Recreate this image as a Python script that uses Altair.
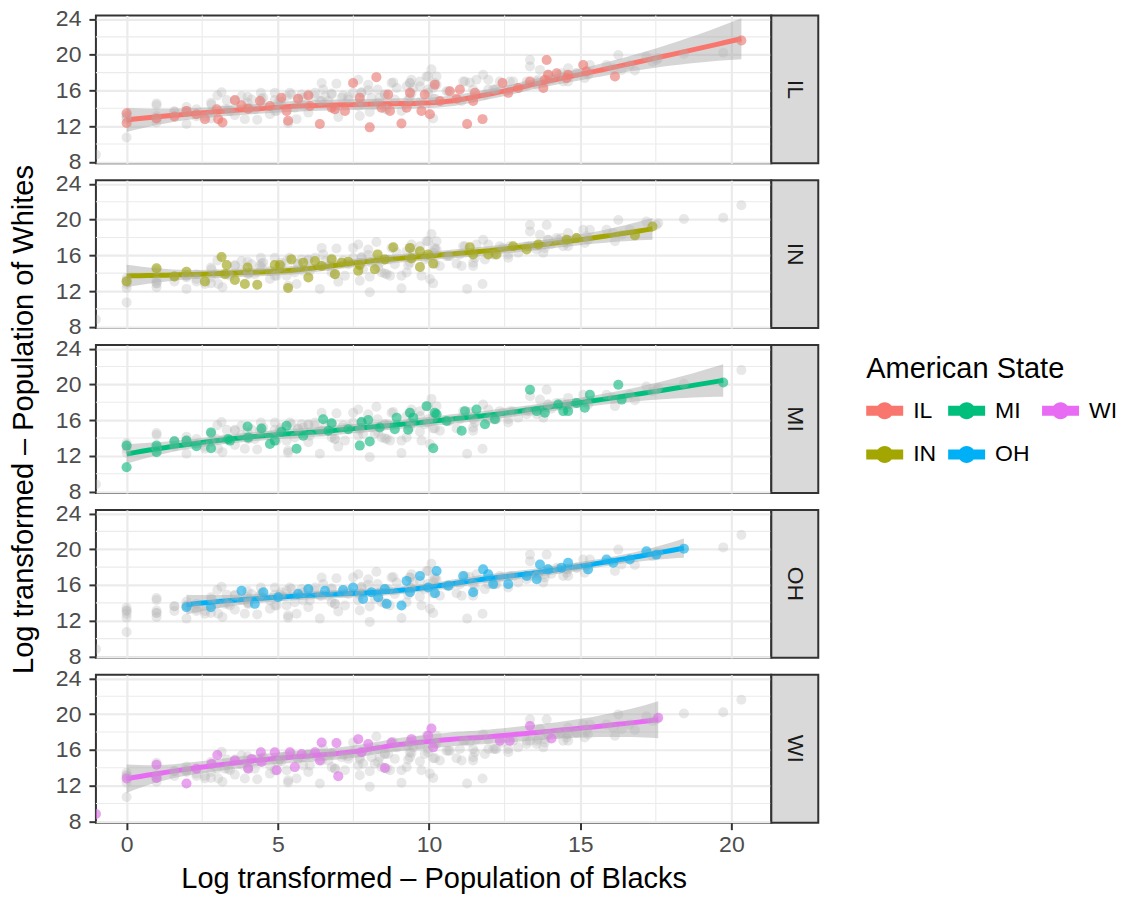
import numpy as np
import pandas as pd
import altair as alt

STATES = ["IL", "IN", "MI", "OH", "WI"]
STATE_COLORS = ["#F8766D", "#A3A500", "#00BF7D", "#00B0F6", "#E76BF3"]

IL_X = [0, 0, 0.99, 1.58, 1.98, 2.31, 2.59, 2.98, 3.03, 3.17, 3.58, 3.80, 4.02, 4.41, 4.74, 5.12, 5.29, 5.34, 5.67, 6.01,
        6.06, 6.39, 6.78, 6.89, 7.22, 7.49, 7.71, 8.04, 8.26, 8.43, 8.65, 8.71, 9.09, 9.26, 9.37, 9.75, 9.86, 10.03, 10.19, 10.36,
        10.69, 10.91, 11.02, 11.26, 11.46, 11.52, 11.77, 12.43, 12.62, 12.95, 13.34, 13.78, 13.83, 13.89, 13.94, 14.22, 14.55, 14.60,
        15.10, 15.21, 16.15, 20.33]
IL_Y = [13.45, 12.35, 12.86, 13.08, 13.71, 13.34, 12.79, 13.89, 12.79, 12.42, 14.92, 14.33, 13.96, 14.81, 14.26, 15.18, 13.71, 12.60, 15.07, 15.43,
        14.26, 12.24, 14.07, 13.89, 13.71, 16.83, 15.18, 11.87, 17.49, 14.07, 15.54, 13.71, 12.31, 14.07, 15.73, 13.71, 15.54, 13.34, 16.65, 14.81,
        15.91, 15.07, 16.10, 12.24, 14.81, 15.73, 12.79, 16.83, 15.73, 16.28, 17.01, 16.28, 17.20, 19.40, 17.75, 17.93, 17.38, 17.75,
        18.85, 18.12, 17.57, 21.60]

IN_X = [0, 0.99, 1.58, 1.98, 2.59, 3.14, 3.25, 3.31, 3.58, 3.91, 4.00, 4.32, 4.90, 5.07, 5.34, 5.45, 5.84, 6.01, 6.23, 6.45,
        6.78, 6.89, 7.11, 7.33, 7.66, 7.71, 8.21, 8.30, 8.54, 8.82, 9.37, 9.42, 9.70, 9.70, 9.97, 10.14, 11.35, 11.46, 11.96, 12.23,
        12.78, 13.23, 13.61, 14.55, 14.88, 16.81, 17.39]
IN_Y = [13.08, 14.55, 13.63, 14.15, 13.08, 15.80, 13.89, 14.92, 13.23, 12.79, 14.63, 12.71, 14.92, 14.92, 12.35, 15.54, 15.18, 13.52, 15.36, 14.81,
        15.54, 13.89, 15.18, 15.29, 14.26, 14.92, 14.44, 16.10, 15.54, 16.90, 16.83, 15.65, 16.46, 14.70, 16.10, 15.07, 16.90, 16.10, 16.10, 16.10,
        17.01, 16.65, 17.20, 17.75, 17.93, 18.23, 19.22]

MI_X = [0, 0, 0.99, 0.99, 1.58, 1.98, 2.31, 2.79, 2.79, 3.36, 3.42, 4.00, 4.02, 4.46, 4.74, 4.90, 5.12, 5.29, 5.62, 5.84,
        6.50, 6.67, 6.78, 7.33, 7.71, 7.77, 7.99, 8.04, 8.37, 8.87, 8.93, 9.31, 9.37, 9.48, 9.92, 10.14, 10.19, 10.25, 10.58, 11.08,
        11.19, 11.57, 11.85, 12.18, 13.34, 13.56, 13.83, 14.27, 14.44, 14.60, 14.88, 15.15, 15.32, 16.26, 16.37, 19.73]
MI_Y = [13.15, 10.73, 13.15, 12.42, 13.63, 13.71, 13.08, 14.63, 12.86, 13.89, 13.71, 15.29, 14.07, 15.07, 13.34, 13.71, 14.70, 15.36, 12.79, 14.26,
        16.10, 14.81, 15.65, 14.99, 13.15, 15.80, 16.02, 13.60, 15.18, 14.99, 16.28, 14.92, 16.83, 16.28, 17.57, 12.86, 16.83, 16.65, 15.91, 14.81,
        17.01, 17.20, 15.54, 16.10, 19.40, 17.01, 16.83, 17.75, 17.01, 17.01, 17.93, 17.38, 18.85, 19.96, 18.30, 20.21]

OH_X = [1.98, 2.79, 3.80, 4.24, 4.52, 5.01, 5.67, 6.01, 6.56, 7.16, 7.49, 7.82, 8.10, 8.32, 8.54, 8.60, 9.09, 9.26, 9.37, 9.70,
        9.97, 10.25, 10.20, 10.64, 11.13, 11.46, 11.79, 11.96, 12.12, 12.62, 13.23, 13.56, 13.67, 13.94, 14.38, 14.60, 15.26, 15.87,
        16.09, 16.64, 17.19, 17.52, 18.43]
OH_Y = [13.52, 13.52, 15.36, 13.89, 15.18, 14.63, 14.99, 15.54, 15.36, 15.43, 15.73, 14.44, 15.18, 14.63, 15.54, 13.89, 13.71, 16.46, 15.18, 17.01,
        15.73, 17.57, 15.07, 15.91, 17.01, 15.18, 17.75, 17.20, 16.10, 16.10, 17.01, 16.65, 18.30, 17.75, 17.93, 18.49, 17.75, 18.85,
        18.49, 18.85, 19.77, 19.40, 20.07]

WI_X = [float("-inf"), 0, 0.99, 0.99, 1.98, 2.31, 2.81, 3.00, 3.58, 4.02, 4.13, 4.44, 4.46, 4.90, 4.96, 5.40, 5.56, 5.79, 6.23, 6.39,
        6.45, 6.94, 7.00, 7.66, 7.77, 7.99, 8.54, 8.76, 9.42, 9.97, 10.08, 10.14, 12.34, 12.67, 13.34, 14.05, 17.58]
WI_Y = [8.82, 12.79, 14.33, 12.86, 12.24, 13.89, 14.44, 15.43, 14.81, 13.89, 14.99, 15.73, 14.63, 15.73, 13.71, 15.73, 14.07, 15.54, 15.73, 14.81,
        16.83, 16.76, 13.04, 17.20, 15.73, 16.65, 13.96, 16.83, 17.20, 17.57, 18.38, 16.28, 17.01, 17.01, 18.67, 17.27, 19.59]

X_TICKS = [0, 5, 10, 15, 20]
X_MINOR = [2.5, 7.5, 12.5, 17.5]
Y_TICKS = [8, 12, 16, 20, 24]
Y_MINOR = [10, 14, 18, 22]
X_DOMAIN = [-1.015, 21.32]
Y_DOMAIN = [7.85, 24.4]

X_TITLE = "Log transformed \u2013 Population of Blacks"
Y_TITLE = "Log transformed \u2013 Population of Whites"
LEGEND_TITLE = "American State"

DATA = {"IL": (IL_X, IL_Y), "IN": (IN_X, IN_Y), "MI": (MI_X, MI_Y), "OH": (OH_X, OH_Y), "WI": (WI_X, WI_Y)}

W, H = 676, 148
STRIP_W = 47
FONT = "Liberation Sans"


def loess(x, y, span=0.75, n_out=80):
    x = np.asarray(x, float)
    y = np.asarray(y, float)
    n = len(x)
    q = int(np.floor(n * span))

    def row(x0):
        d = np.abs(x - x0)
        D = max(np.sort(d)[q - 1], 1e-9)
        u = np.clip(d / D, 0, 1)
        w = (1 - u ** 3) ** 3
        X = np.column_stack([np.ones(n), x - x0, (x - x0) ** 2])
        XtW = X.T * w
        return np.linalg.solve(XtW @ X, XtW)[0]

    L = np.array([row(v) for v in x])
    M = np.eye(n) - L
    MtM = M.T @ M
    d1 = np.trace(MtM)
    d2 = np.trace(MtM @ MtM)
    res = y - L @ y
    s = np.sqrt(np.sum(res ** 2) / d1)
    df = d1 ** 2 / d2
    z = 1.959964
    t = z + (z ** 3 + z) / (4 * df) + (5 * z ** 5 + 16 * z ** 3 + 3 * z) / (96 * df ** 2)
    grid = np.linspace(x.min(), x.max(), n_out)
    G = np.array([row(g) for g in grid])
    fit = G @ y
    se = s * np.sqrt(np.sum(G ** 2, axis=1))
    return pd.DataFrame({"x": grid, "fit": fit, "lo": fit - t * se, "hi": fit + t * se})


frames = []
for st in STATES:
    xs, ys = DATA[st]
    frames.append(pd.DataFrame({"xraw": xs, "y": ys, "state": st}))
all_df = pd.concat(frames, ignore_index=True)
finite = np.isfinite(all_df["xraw"].to_numpy())
# ggplot draws -Inf at the panel edge
all_df["x"] = np.where(finite, all_df["xraw"], X_DOMAIN[0])
all_df["finite"] = finite
all_df = all_df.drop(columns=["xraw"])

color_scale = alt.Scale(domain=STATES, range=STATE_COLORS)

KEY_PATH = ("M-1,-0.27 L1,-0.27 L1,0.27 L-1,0.27 Z "
            "M-0.46,0 A0.46,0.46 0 1,1 0.46,0 A0.46,0.46 0 1,1 -0.46,0 Z")

legend = alt.Legend(
    title=LEGEND_TITLE, orient="none", legendX=771, legendY=340, columns=3, direction="vertical",
    symbolType=KEY_PATH, symbolSize=1369, symbolOpacity=1, symbolStrokeWidth=0,
    titleFontSize=29, titleFont=FONT, titleFontWeight="normal", titleColor="black", titleLimit=0,
    labelFontSize=23, labelFont=FONT, labelColor="black", labelOffset=10, labelLimit=0,
    columnPadding=12, rowPadding=13, titlePadding=8,
)

xs_scale = alt.Scale(domain=X_DOMAIN, nice=False, zero=False)
ys_scale = alt.Scale(domain=Y_DOMAIN, nice=False, zero=False)


def x_axis(bottom):
    common = dict(values=X_TICKS, grid=True, domain=False, labelFlush=False, gridWidth=2.2)
    if bottom:
        return alt.Axis(title=X_TITLE, labels=True, ticks=True, tickSize=7,
                        labelPadding=4, titlePadding=8, **common)
    return alt.Axis(title=None, labels=False, ticks=False, **common)


def y_axis(with_title):
    return alt.Axis(
        title=Y_TITLE if with_title else None, values=Y_TICKS, grid=True, domain=False,
        labelFlush=False, gridWidth=2.2, tickSize=7, labelPadding=8, titlePadding=17,
    )


minor_x_df = pd.DataFrame({"x": X_MINOR})
minor_y_df = pd.DataFrame({"y": Y_MINOR})

panels = []
for i, st in enumerate(STATES):
    sdf = all_df[all_df["state"] == st]
    fin = sdf[sdf["finite"]]
    smooth = loess(fin["x"], fin["y"])
    xenc = alt.X("x:Q", scale=xs_scale, axis=x_axis(i == 4))
    yenc = alt.Y("y:Q", scale=ys_scale, axis=y_axis(i == 2))

    grid_x = alt.Chart(minor_x_df).mark_rule(color="#EBEBEB", strokeWidth=1.1).encode(x=xenc)
    grid_y = alt.Chart(minor_y_df).mark_rule(color="#EBEBEB", strokeWidth=1.1).encode(y=yenc)
    band = alt.Chart(smooth).mark_area(color="#999999", opacity=0.4, clip=True).encode(
        x=xenc,
        y=alt.Y("lo:Q", scale=ys_scale, axis=y_axis(i == 2)),
        y2="hi:Q")
    line = alt.Chart(smooth).mark_line(color=STATE_COLORS[i], strokeWidth=5, clip=True).encode(
        x=xenc, y=alt.Y("fit:Q", scale=ys_scale, axis=y_axis(i == 2)))
    gray = alt.Chart(all_df).mark_circle(color="#B3B3B3", opacity=0.3, size=100, clip=True).encode(
        x=xenc, y=yenc)
    colored = alt.Chart(sdf).mark_circle(opacity=0.55, size=100, clip=True).encode(
        x=xenc, y=yenc,
        color=alt.Color("state:N", scale=color_scale, legend=legend))
    strip_df = pd.DataFrame({"state": [st]})
    strip = alt.Chart(strip_df).mark_rect(fill="#D9D9D9", stroke="#333333", strokeWidth=2).encode(
        x=alt.value(W), x2=alt.value(W + STRIP_W), y=alt.value(0), y2=alt.value(H))
    strip_text = alt.Chart(strip_df).mark_text(angle=90, fontSize=23, font=FONT, color="#1A1A1A").encode(
        x=alt.value(W + STRIP_W / 2), y=alt.value(H / 2), text="state:N")
    panels.append(alt.layer(grid_x, grid_y, band, line, gray, colored, strip, strip_text)
                  .properties(width=W, height=H))

chart = alt.vconcat(*panels, spacing=17, bounds="flush").resolve_scale(color="shared").properties(
    padding={"left": 0, "top": -2, "right": 0, "bottom": 5}
).configure_view(stroke="#333333", strokeWidth=2).configure_axis(
    labelFont=FONT, labelFontSize=23, labelColor="#4D4D4D",
    titleFont=FONT, titleFontSize=29, titleColor="black", titleFontWeight="normal",
    tickColor="#333333", tickWidth=2, gridColor="#EBEBEB",
)

chart.save("out.html", embed_options={"renderer": "svg", "actions": False})
